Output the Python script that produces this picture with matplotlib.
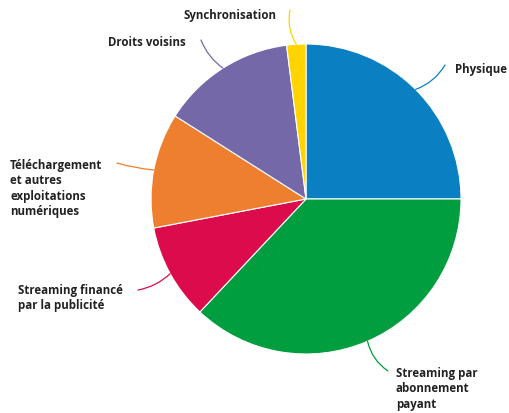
import numpy as np
import matplotlib.pyplot as plt

# part des revenus (%)
labels = ["Physique", "Streaming par\nabonnement\npayant",
          "Streaming financé\npar la publicité",
          "Téléchargement\net autres\nexploitations\nnumériques",
          "Droits voisins", "Synchronisation"]
values = [25, 37, 10, 12, 14, 2]
colors = ["#0A80C3", "#009E3F", "#DC0C4C", "#EE7F2E", "#7468A9", "#FFD400"]

# layout in pixel coords (x, y from top)
text_pos = [(455, 69), (396, 367), (18, 284), (10, 159), (108, 43), (183, 15)]
text_va = ["center", "top", "top", "top", "center", "center"]
line_end = [(445, 66), (388, 372), (138, 291), (117, 164), (201, 41), (290, 11)]
line_rad = [-0.18, -0.2, 0.15, 0.05, 0.15, 0.2]

W, H = 509, 414
fig = plt.figure(figsize=(W / 100, H / 100), dpi=100)
ax = fig.add_axes([0, 0, 1, 1])

cx, cy, r = 306, H - 200, 155
wedges, _ = ax.pie(values, colors=colors, startangle=90, counterclock=False,
                   center=(cx, cy), radius=r, frame=True,
                   wedgeprops=dict(edgecolor="white", linewidth=0.8))
ax.set_xlim(0, W)
ax.set_ylim(0, H)
ax.set_aspect("equal")
ax.axis("off")

for w, lab, tp, va, le, rad, col in zip(wedges, labels, text_pos, text_va,
                                        line_end, line_rad, colors):
    a = np.deg2rad((w.theta1 + w.theta2) / 2)
    px, py = cx + r * np.cos(a), cy + r * np.sin(a)
    ax.annotate("", xy=(px, py), xytext=(le[0], H - le[1]),
                arrowprops=dict(arrowstyle="-", color=col, lw=0.9,
                                connectionstyle=f"arc3,rad={rad}",
                                shrinkA=0, shrinkB=0))
    ax.text(tp[0], H - tp[1], lab, ha="left", va=va, fontsize=8.3,
            fontweight="bold", family="Open Sans", color="#222222",
            linespacing=1.25)

fig.savefig("out.png", dpi=100)
